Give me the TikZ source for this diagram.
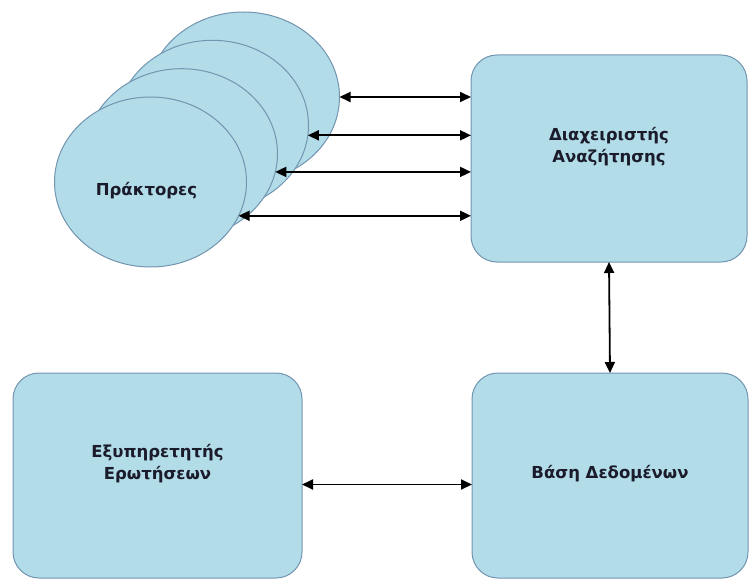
\documentclass[tikz,border=0pt]{standalone}
\usepackage{fontspec}
\setmainfont{DejaVu Sans}
\usetikzlibrary{arrows.meta,shapes.geometric}
\definecolor{boxfill}{HTML}{B1DCE8}
\definecolor{boxline}{HTML}{7395B0}
\definecolor{ink}{HTML}{1B1B2B}
\begin{document}
\begin{tikzpicture}[x=1pt,y=-1pt,
  agent/.style={ellipse, draw=boxline, fill=boxfill, line width=1pt,
    minimum width=192pt, minimum height=170pt, inner sep=0pt, outer sep=0pt},
  block/.style={rectangle, rounded corners=26pt, draw=boxline, fill=boxfill,
    line width=1pt, inner sep=0pt, outer sep=0pt},
  lbl/.style={font=\bfseries\fontsize{16.5}{22}\selectfont, text=ink, align=center},
  link/.style={draw=black, line width=1.8pt,
    {Triangle[length=11pt,width=10pt]}-{Triangle[length=11pt,width=10pt]}}
]
\useasboundingbox (0,0) rectangle (749,580);

% stacked agents, back to front
\node[agent] (a1) at (243.5,97)   {};
\node[agent] (a2) at (212.5,125.3) {};
\node[agent] (a3) at (181.5,153.7) {};
\node[agent] (a4) at (150.5,182)  {};

% components
\node[block, minimum width=276pt, minimum height=207pt] (mgr) at (609,158.5) {};
\node[block, minimum width=289pt, minimum height=205pt] (srv) at (157.5,475.5) {};
\node[block, minimum width=276pt, minimum height=205pt] (db)  at (610,475.5) {};

% labels
\node[lbl] at ([xshift=-4pt,yshift=-9pt]a4.center) {Πράκτορες};
\node[lbl] at ([yshift=12pt]mgr.center) {Διαχειριστής\\Αναζήτησης};
\node[lbl] at ([yshift=12pt]srv.center) {Εξυπηρετητής\\Ερωτήσεων};
\node[lbl] at ([yshift=2pt]db.center) {Βάση Δεδομένων};

% links between agents and the search manager
\draw[link] (a1.0)     -- (a1.0 -| mgr.west);
\draw[link] (a2.-6.4)  -- (a2.-6.4 -| mgr.west);
\draw[link] (a3.-11.7) -- (a3.-11.7 -| mgr.west);
\draw[link] (a4.-21.2) -- (a4.-21.2 -| mgr.west);

% links to the database
\draw[link] (mgr.south) -- (db.north);
\draw[link] ([yshift=-9pt]srv.east) -- ([yshift=-9pt]db.west);
\end{tikzpicture}
\end{document}
